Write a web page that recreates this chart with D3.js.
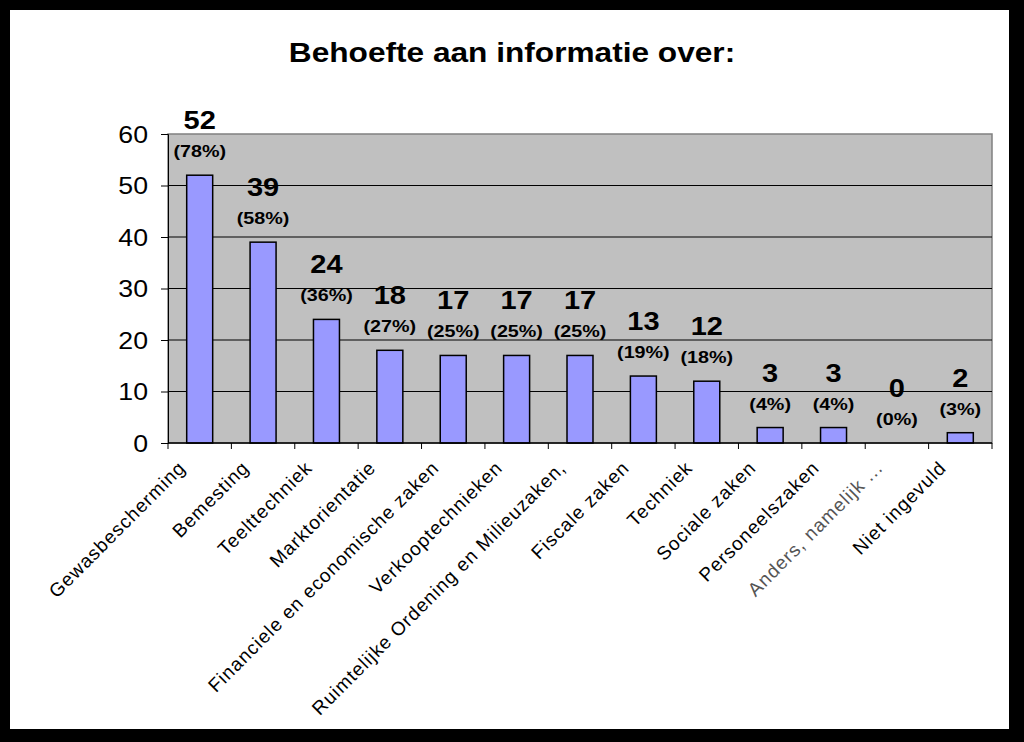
<!DOCTYPE html>
<html>
<head>
<meta charset="utf-8">
<script src="https://cdnjs.cloudflare.com/ajax/libs/d3/7.8.5/d3.min.js"></script>
<style>
  body { margin: 0; background: #000; }
  svg { display: block; }
</style>
</head>
<body>
<script>
// categories and values
var categories = ["Gewasbescherming", "Bemesting", "Teelttechniek", "Marktorientatie",
  "Financiele en economische zaken", "Verkooptechnieken", "Ruimtelijke Ordening en Milieuzaken,",
  "Fiscale zaken", "Techniek", "Sociale zaken", "Personeelszaken", "Anders, namelijk ...", "Niet ingevuld"];
var counts = [52, 39, 24, 18, 17, 17, 17, 13, 12, 3, 3, 0, 2];
var percents = ["78%", "58%", "36%", "27%", "25%", "25%", "25%", "19%", "18%", "4%", "4%", "0%", "3%"];
var yTicks = [0, 10, 20, 30, 40, 50, 60];
var title = "Behoefte aan informatie over:";

var width = 1024;
var height = 742;
var plot = {left: 168, right: 992, top: 134, bottom: 443};
// the original picture is a bit stretched sideways
var stretch = 1.16;

var data = categories.map(function(c, i) {
  return {cat: c, n: counts[i], pct: percents[i]};
});

var svg = d3.select("body")
  .append("svg")
  .attr("width", width)
  .attr("height", height)
  .style("font-family", "Liberation Sans, Arial, sans-serif");

// black frame with white page
svg.append("rect")
  .attr("width", width).attr("height", height)
  .attr("fill", "#000");
svg.append("rect")
  .attr("x", 10).attr("y", 10)
  .attr("width", 999).attr("height", 719)
  .attr("fill", "#fff");

// scales
var xScale = d3.scaleBand()
  .domain(categories)
  .range([plot.left, plot.right])
  .paddingInner(0.59)
  .paddingOuter(0.295);

var yScale = d3.scaleLinear()
  .domain([0, 60])
  .range([plot.bottom, plot.top]);

// plot background
svg.append("rect")
  .attr("x", plot.left).attr("y", plot.top)
  .attr("width", plot.right - plot.left)
  .attr("height", plot.bottom - plot.top)
  .attr("fill", "#c0c0c0")
  .attr("stroke", "#808080")
  .attr("stroke-width", 1.5);

// gridlines
svg.selectAll(".grid")
  .data(yTicks.filter(function(t) { return t > 0 && t < 60; }))
  .enter()
  .append("line")
  .attr("x1", plot.left).attr("x2", plot.right)
  .attr("y1", function(d) { return yScale(d); })
  .attr("y2", function(d) { return yScale(d); })
  .attr("stroke", "#000")
  .attr("stroke-width", 1);

// bars
svg.selectAll(".bar")
  .data(data)
  .enter()
  .append("rect")
  .attr("x", function(d) { return xScale(d.cat); })
  .attr("y", function(d) { return yScale(d.n); })
  .attr("width", xScale.bandwidth())
  .attr("height", function(d) { return plot.bottom - yScale(d.n); })
  .attr("fill", "#9999ff")
  .attr("stroke", "#000")
  .attr("stroke-width", 1.5);

// y axis
var yAxis = d3.axisLeft(yScale).tickValues(yTicks).tickSize(7).tickPadding(0);
var gy = svg.append("g")
  .attr("transform", "translate(" + plot.left + ",0)")
  .call(yAxis);
gy.select(".domain").attr("stroke", "#000");
gy.selectAll(".tick text")
  .attr("x", null)
  .attr("dy", null)
  .attr("transform", "translate(-20,8) scale(" + stretch + ",1)")
  .attr("font-size", 23)
  .attr("font-family", "Liberation Sans, Arial, sans-serif")
  .attr("fill", "#000");

// x axis line + ticks at category boundaries
var step = xScale.step();
var bounds = d3.range(categories.length + 1).map(function(i) {
  return plot.left + i * step;
});
svg.append("line")
  .attr("x1", plot.left).attr("x2", plot.right)
  .attr("y1", plot.bottom).attr("y2", plot.bottom)
  .attr("stroke", "#000").attr("stroke-width", 1.5);
svg.selectAll(".xtick")
  .data(bounds)
  .enter()
  .append("line")
  .attr("x1", function(d) { return d; }).attr("x2", function(d) { return d; })
  .attr("y1", plot.bottom).attr("y2", plot.bottom + 6)
  .attr("stroke", "#000");

// x labels, rotated
svg.selectAll(".xlabel")
  .data(data)
  .enter()
  .append("text")
  .attr("transform", function(d) {
    var cx = xScale(d.cat) + xScale.bandwidth() / 2;
    return "translate(" + [cx - 13, plot.bottom + 26] + ") rotate(-45)";
  })
  .attr("text-anchor", "end")
  .attr("font-size", 19)
  .attr("letter-spacing", 1)
  .attr("fill", function(d) { return d.cat.indexOf("Anders") === 0 ? "#555" : "#000"; })
  .text(function(d) { return d.cat; });

// value labels
svg.selectAll(".val")
  .data(data)
  .enter()
  .append("text")
  .attr("transform", function(d) {
    var cx = xScale(d.cat) + xScale.bandwidth() / 2;
    return "translate(" + [cx, yScale(d.n) - 46] + ") scale(" + stretch + ",1)";
  })
  .attr("text-anchor", "middle")
  .attr("font-size", 25)
  .attr("font-weight", "bold")
  .text(function(d) { return d.n; });

svg.selectAll(".pct")
  .data(data)
  .enter()
  .append("text")
  .attr("transform", function(d) {
    var cx = xScale(d.cat) + xScale.bandwidth() / 2;
    return "translate(" + [cx, yScale(d.n) - 18] + ") scale(" + stretch + ",1)";
  })
  .attr("text-anchor", "middle")
  .attr("font-size", 17)
  .attr("font-weight", "bold")
  .text(function(d) { return "(" + d.pct + ")"; });

// title
svg.append("text")
  .attr("transform", "translate(512,62) scale(1.13,1)")
  .attr("text-anchor", "middle")
  .attr("font-size", 28)
  .attr("font-weight", "bold")
  .text(title);
</script>
</body>
</html>
